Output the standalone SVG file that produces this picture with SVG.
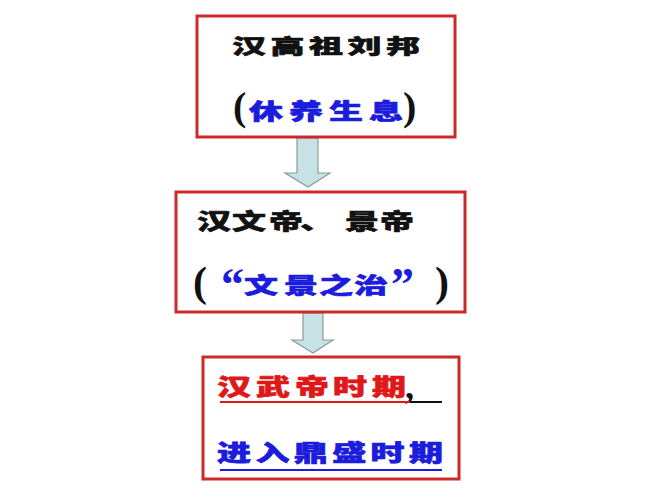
<svg xmlns="http://www.w3.org/2000/svg" width="667" height="500" viewBox="0 0 667 500">
<style>
.box{fill:#fff;stroke:#cc2a2a;stroke-width:3}
.arr{fill:#c6e2e4;stroke:#8a9a9e;stroke-width:1.2}
.cj{font-family:"Noto Sans CJK SC","Noto Sans CJK TC",sans-serif;font-weight:900;font-size:34px;stroke-width:1;stroke-linejoin:round}
.pa{font-family:"Liberation Serif",serif;font-weight:bold}
.k{fill:#111;stroke:#111}
.b{fill:#1c1cdc;stroke:#1c1cdc}
.r{fill:#e01818;stroke:#e01818}
.pa.k,.pa.b{stroke:none}
</style>
<rect width="667" height="500" fill="#fff"/>
<g id="connectors">
<polygon class="arr" points="297,138 318,138 318,173 330,173 308,187 285,173 297,173"/>
<polygon class="arr" points="303,313 323,313 323,340 333,340 313,353 292,340 303,340"/>
</g>
<g id="node1">
<rect class="box" x="197" y="16" width="258" height="121"/>
<text class="cj k" transform="translate(0,53.5) scale(1,0.6)" x="232 270.5 309 347.5 386" y="0">汉高祖刘邦</text>
<text class="pa k" font-size="40" x="233" y="120">(</text>
<text class="cj b" transform="translate(0,119) scale(1,0.62)" x="249 289 329 369" y="0">休养生息</text>
<text class="pa k" font-size="40" x="403" y="120">)</text>
</g>
<g id="node2">
<rect class="box" x="176" y="192" width="289" height="120"/>
<text class="cj k" transform="translate(0,229) scale(1,0.62)" x="197 232 269 300 345 380" y="0">汉文帝、景帝</text>
<text class="pa k" font-size="42" x="193" y="296">(</text>
<text class="pa b" font-size="46" x="221" y="300">“</text>
<text class="cj b" transform="translate(0,293) scale(1,0.62)" x="244 284 319 354" y="0">文景之治</text>
<text class="pa b" font-size="46" x="391" y="300">”</text>
<text class="pa k" font-size="42" x="435" y="296">)</text>
</g>
<g id="node3">
<rect class="box" x="203" y="357" width="256" height="122"/>
<text class="cj r" transform="translate(0,395) scale(1,0.66)" x="217 256 295 333 372" y="0">汉武帝时期</text>
<text class="pa k" font-size="36" x="405" y="398">,</text>
<line x1="220" y1="402" x2="410" y2="402" stroke="#e01818" stroke-width="2"/>
<line x1="410" y1="402" x2="442" y2="402" stroke="#111" stroke-width="2"/>
<text class="cj b" transform="translate(0,461) scale(1,0.66)" x="217 255.4 293.8 332.2 370.6 409" y="0">进入鼎盛时期</text>
<line x1="220" y1="470" x2="442" y2="470" stroke="#1c1cdc" stroke-width="2"/>
</g>
</svg>
